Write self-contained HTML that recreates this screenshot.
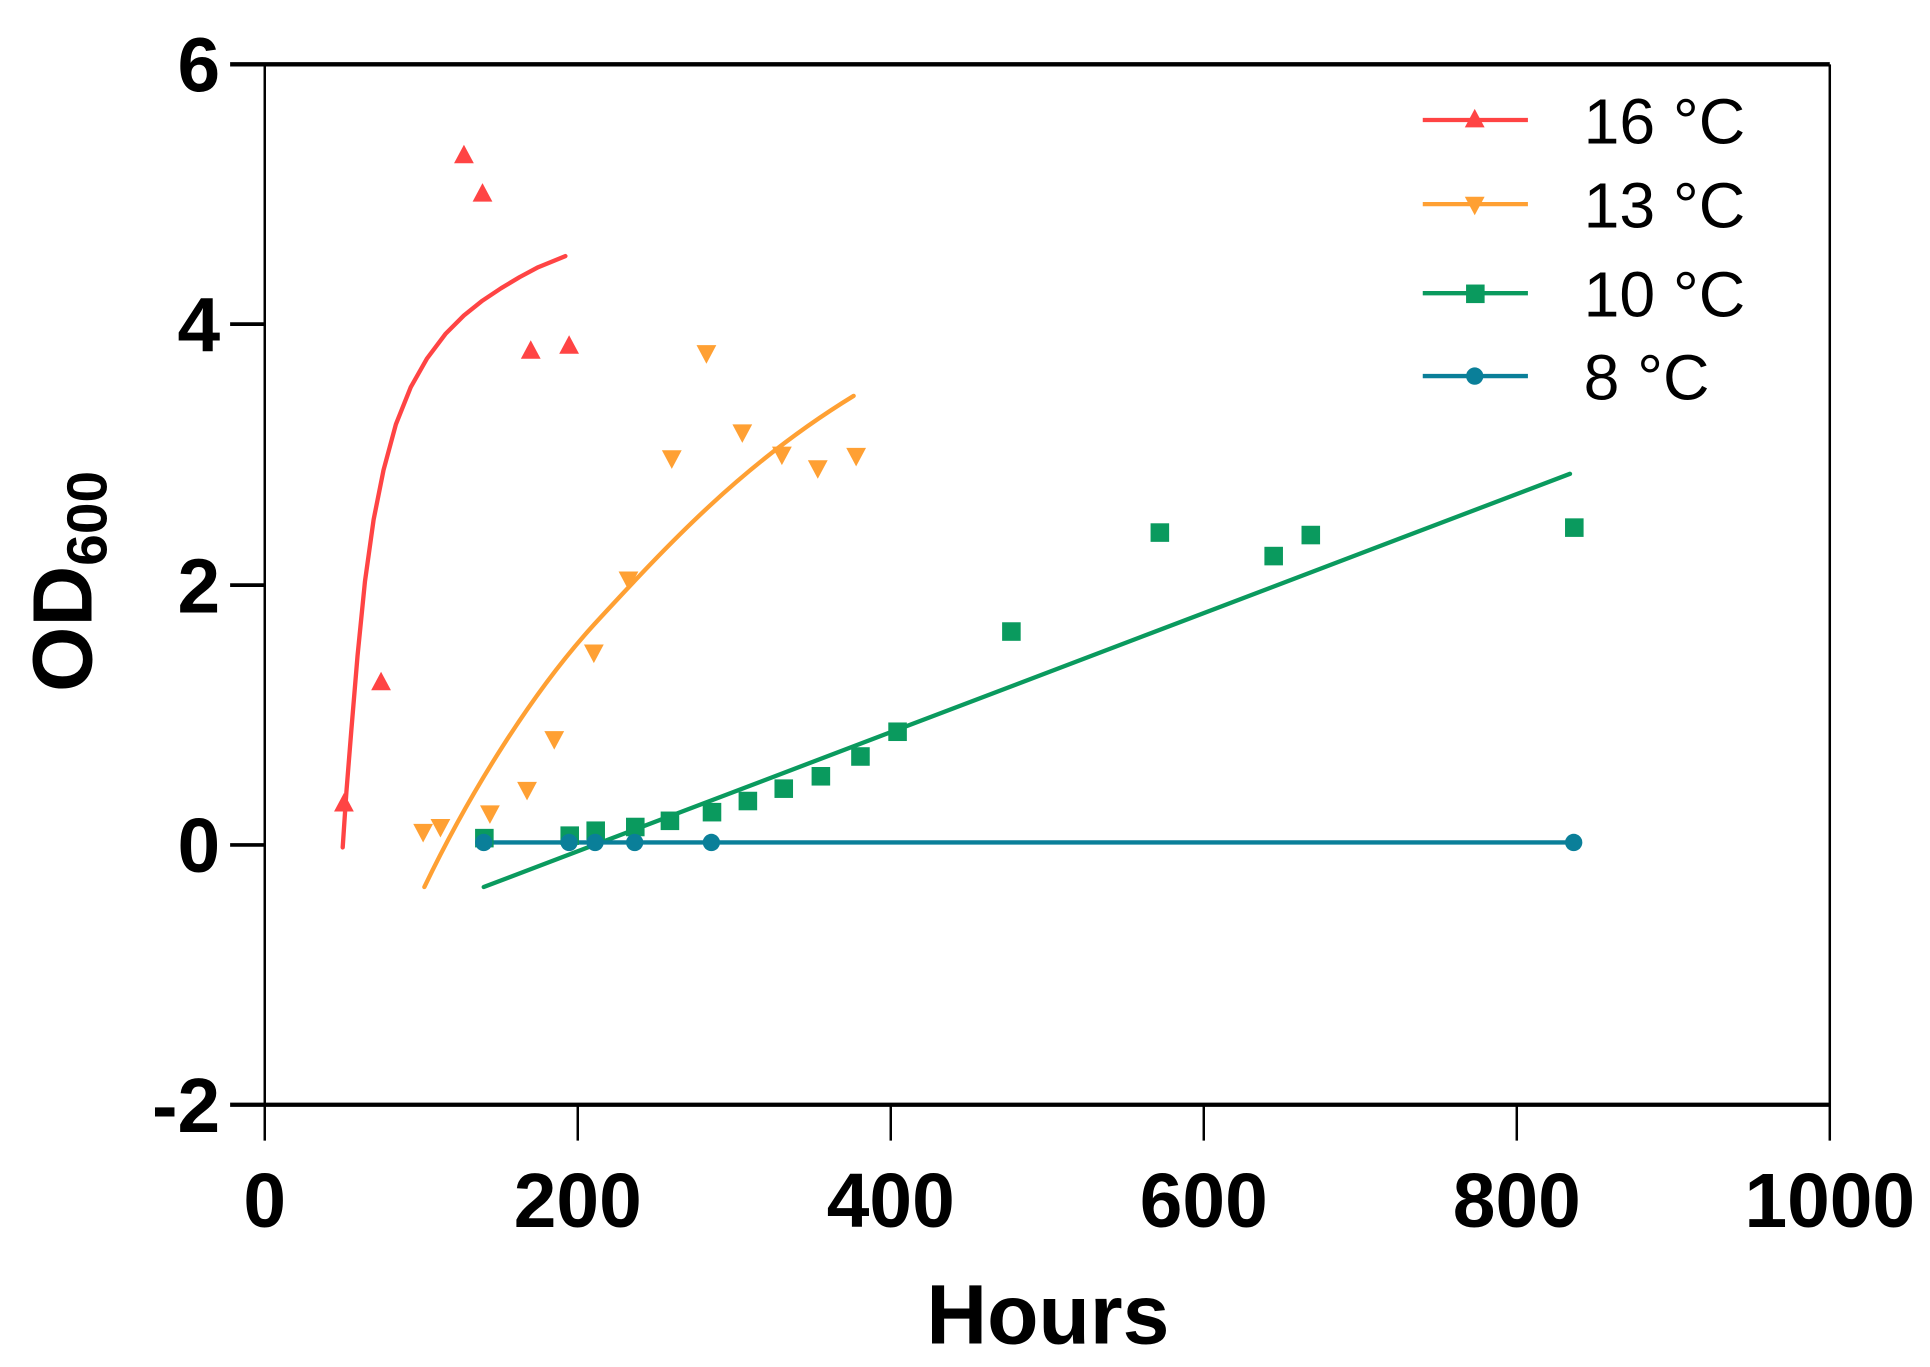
<!DOCTYPE html>
<html><head><meta charset="utf-8"><style>
html,body{margin:0;padding:0;background:#fff;}
svg{display:block;}
text{font-family:"Liberation Sans",Arial,sans-serif;}
</style></head><body>
<svg width="1930" height="1367" viewBox="0 0 1560 1105" preserveAspectRatio="none" xmlns="http://www.w3.org/2000/svg">
<rect width="1560" height="1105" fill="#fff"/>
<defs>
<path id="tu" d="M0,-9 L8,6 L-8,6 Z"/>
<path id="td" d="M0,9 L8,-6 L-8,-6 Z"/>
</defs>
<g stroke="#000" fill="none">
<line x1="186" y1="52" x2="1479" y2="52" stroke-width="3.5"/>
<line x1="186" y1="893" x2="1479" y2="893" stroke-width="3.5"/>
<line x1="214" y1="52" x2="214" y2="922" stroke-width="2"/>
<line x1="1479" y1="52" x2="1479" y2="922" stroke-width="2"/>
<line x1="186" y1="262" x2="214" y2="262" stroke-width="3"/>
<line x1="186" y1="473" x2="214" y2="473" stroke-width="3"/>
<line x1="186" y1="683" x2="214" y2="683" stroke-width="3"/>
<line x1="467" y1="893" x2="467" y2="922" stroke-width="2"/>
<line x1="720" y1="893" x2="720" y2="922" stroke-width="2"/>
<line x1="973" y1="893" x2="973" y2="922" stroke-width="2"/>
<line x1="1226" y1="893" x2="1226" y2="922" stroke-width="2"/>
</g>
<g font-weight="bold" font-size="62" text-anchor="end" fill="#000">
<text x="178" y="74">6</text>
<text x="178" y="284">4</text>
<text x="178" y="495">2</text>
<text x="178" y="705">0</text>
<text x="178" y="915">-2</text>
</g>
<g font-weight="bold" font-size="62" text-anchor="middle" fill="#000">
<text x="214" y="992">0</text>
<text x="467" y="992">200</text>
<text x="720" y="992">400</text>
<text x="973" y="992">600</text>
<text x="1226" y="992">800</text>
<text x="1479" y="992">1000</text>
</g>
<text x="847" y="1086" font-weight="bold" font-size="68" text-anchor="middle">Hours</text>
<text transform="translate(74,470) rotate(-90)" font-weight="bold" font-size="68" text-anchor="middle">OD<tspan font-size="46" dy="12">600</tspan></text>

<g fill="none" stroke-width="3.5" stroke-linecap="round" stroke-linejoin="round">
<polyline stroke="#f44" points="277,685 280,640 284,590 289,530 295,470 302,420 310,380 320,343 332,313 345,290 360,270 375,255 390,243 405,233 420,224 435,216 457,207"/>
<path stroke="#ffa033" d="M343,717 C380,640 430,560 480,505 C540,440 600,375 690,320"/>
<line stroke="#0a9a5e" x1="391" y1="717" x2="1269" y2="383"/>
<line stroke="#0a7f99" x1="391" y1="681" x2="1272" y2="681"/>
</g>
<g fill="#f44">
<use href="#tu" x="278" y="650"/><use href="#tu" x="308" y="552"/><use href="#tu" x="375" y="126"/>
<use href="#tu" x="390" y="157"/><use href="#tu" x="429" y="284"/><use href="#tu" x="460" y="280"/>
</g>
<g fill="#ffa033">
<use href="#td" x="342" y="672"/><use href="#td" x="356" y="668"/><use href="#td" x="396" y="657"/>
<use href="#td" x="426" y="638"/><use href="#td" x="448" y="597"/><use href="#td" x="480" y="527"/>
<use href="#td" x="508" y="468"/><use href="#td" x="543" y="370"/><use href="#td" x="571" y="285"/>
<use href="#td" x="600" y="349"/><use href="#td" x="632" y="367"/><use href="#td" x="661" y="378"/>
<use href="#td" x="692" y="368"/>
</g>
<g fill="#0a9a5e">
<rect x="384" y="670" width="15" height="15"/><rect x="453" y="668" width="15" height="15"/>
<rect x="474" y="664" width="15" height="15"/><rect x="506" y="661" width="15" height="15"/>
<rect x="534" y="656" width="15" height="15"/><rect x="568" y="649" width="15" height="15"/>
<rect x="597" y="640" width="15" height="15"/><rect x="626" y="630" width="15" height="15"/>
<rect x="656" y="620" width="15" height="15"/><rect x="688" y="604" width="15" height="15"/>
<rect x="718" y="584" width="15" height="15"/><rect x="810" y="503" width="15" height="15"/>
<rect x="930" y="423" width="15" height="15"/><rect x="1022" y="442" width="15" height="15"/>
<rect x="1052" y="425" width="15" height="15"/><rect x="1265" y="419" width="15" height="15"/>
</g>
<g fill="#0a7f99">
<circle cx="391" cy="681" r="7"/><circle cx="460" cy="681" r="7"/><circle cx="481" cy="681" r="7"/>
<circle cx="513" cy="681" r="7"/><circle cx="575" cy="681" r="7"/><circle cx="1272" cy="681" r="7"/>
</g>
<g stroke-width="3.5">
<line x1="1150" y1="97" x2="1235" y2="97" stroke="#f44"/>
<line x1="1150" y1="165" x2="1235" y2="165" stroke="#ffa033"/>
<line x1="1150" y1="237" x2="1235" y2="237" stroke="#0a9a5e"/>
<line x1="1150" y1="304" x2="1235" y2="304" stroke="#0a7f99"/>
</g>
<use href="#tu" x="1192" y="97" fill="#f44"/>
<use href="#td" x="1192" y="165" fill="#ffa033"/>
<rect x="1185" y="230" width="15" height="15" fill="#0a9a5e"/>
<circle cx="1192" cy="304" r="7" fill="#0a7f99"/>
<g font-size="52" fill="#000">
<text x="1280" y="116">16 °C</text>
<text x="1280" y="184">13 °C</text>
<text x="1280" y="256">10 °C</text>
<text x="1280" y="323">8 °C</text>
</g>
</svg>
</body></html>
